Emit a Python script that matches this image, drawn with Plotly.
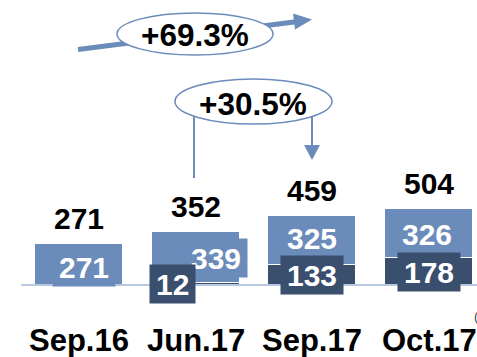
import plotly.graph_objects as go

# Data
categories = ["Sep.16", "Jun.17", "Sep.17", "Oct.17"]
lower_part = [0, 12, 133, 178]      # dark segment
upper_part = [271, 339, 325, 326]   # light segment
totals = [271, 352, 459, 504]
growth_long = "+69.3%"
growth_short = "+30.5%"

# Styling
LIGHT = "#6B8CBA"
DARK = "#3A4E6E"
BASE = "#B8C8E0"
ARROW = "#6B8CBA"
FONT = "Liberation Sans, Arial, sans-serif"
W, H = 477, 357

# label nudges (pixels) for the segment labels
upper_xshift = [5, 20, 0, -2]
upper_yshift = [-2, 0, 3, 0]
lower_xshift = [0, -23, 0, 0]

fig = go.Figure()
fig.add_bar(x=categories, y=lower_part, marker=dict(color=DARK, line=dict(color="white", width=1)),
            width=0.754, hoverinfo="skip")
fig.add_bar(x=categories, y=upper_part, marker=dict(color=LIGHT, line=dict(color="white", width=1)),
            width=0.754, hoverinfo="skip")


def label(**kw):
    d = dict(showarrow=False, xanchor="center", yanchor="middle")
    d.update(kw)
    return d


ann = []
for i, c in enumerate(categories):
    lo, up = lower_part[i], upper_part[i]
    # light segment label
    ann.append(label(x=c, y=lo + up / 2, text=str(up), xshift=upper_xshift[i], yshift=upper_yshift[i],
                     font=dict(family=FONT, size=30, color="white", weight="bold"),
                     bgcolor=LIGHT, borderpad=6, height=26))
    # dark segment label
    if lo > 0:
        ann.append(label(x=c, y=lo / 2, text=str(lo), xshift=lower_xshift[i],
                         font=dict(family=FONT, size=30, color="white", weight="bold"),
                         bgcolor=DARK, borderpad=6, height=26))
    # total above bar
    ann.append(label(x=c, y=totals[i], text=str(totals[i]), yshift=26,
                     font=dict(family=FONT, size=30, color="black", weight="bold")))
    # category label
    ann.append(label(x=c, y=-367, text=c,
                     font=dict(family=FONT, size=31, color="black", weight="bold")))


def px(x):
    return x / W


def py(y):
    return 1 - y / H


ann.append(label(xref="paper", yref="paper", x=px(195), y=py(35), text=growth_long,
                 font=dict(family=FONT, size=31.5, color="black", weight="bold")))
ann.append(label(xref="paper", yref="paper", x=px(253), y=py(104), text=growth_short,
                 font=dict(family=FONT, size=31.5, color="black", weight="bold")))
ann.append(label(xref="paper", yref="paper", x=px(472), y=py(316), text="(1)", xanchor="left",
                 font=dict(family=FONT, size=13, color="#444")))

shapes = [
    # baseline
    dict(type="line", xref="paper", yref="y", x0=px(21), x1=1, y0=0, y1=0,
         line=dict(color=BASE, width=2)),
    # long-term arrow
    dict(type="line", xref="paper", yref="paper", x0=px(78), y0=py(49.5), x1=px(296), y1=py(21.7),
         line=dict(color=ARROW, width=5)),
    dict(type="path", xref="paper", yref="paper",
         path=f"M {px(312)} {py(19.5)} L {px(293)} {py(13.5)} L {px(295)} {py(29.5)} Z",
         fillcolor=ARROW, line=dict(color=ARROW, width=0)),
    # bracket for short-term growth
    dict(type="line", xref="paper", yref="paper", x0=px(194), x1=px(194), y0=py(115), y1=py(178),
         line=dict(color=ARROW, width=2)),
    dict(type="line", xref="paper", yref="paper", x0=px(312), x1=px(312), y0=py(115), y1=py(146),
         line=dict(color=ARROW, width=2)),
    dict(type="path", xref="paper", yref="paper",
         path=f"M {px(304)} {py(145)} L {px(320)} {py(145)} L {px(312)} {py(160)} Z",
         fillcolor=ARROW, line=dict(color=ARROW, width=0)),
    # ellipses
    dict(type="circle", xref="paper", yref="paper", x0=px(117), x1=px(273), y0=py(55), y1=py(13),
         fillcolor="white", line=dict(color=ARROW, width=1.5)),
    dict(type="circle", xref="paper", yref="paper", x0=px(175), x1=px(332), y0=py(124), y1=py(79),
         fillcolor="white", line=dict(color=ARROW, width=1.5)),
]

fig.update_layout(
    width=W, height=H, margin=dict(l=0, r=0, t=0, b=0),
    barmode="stack", bargap=0, showlegend=False,
    plot_bgcolor="white", paper_bgcolor="white",
    xaxis=dict(visible=False, range=[-0.677, 3.411]),
    yaxis=dict(visible=False, range=[-480, 1900]),
    annotations=ann, shapes=shapes,
)

fig.write_html("out.html")
